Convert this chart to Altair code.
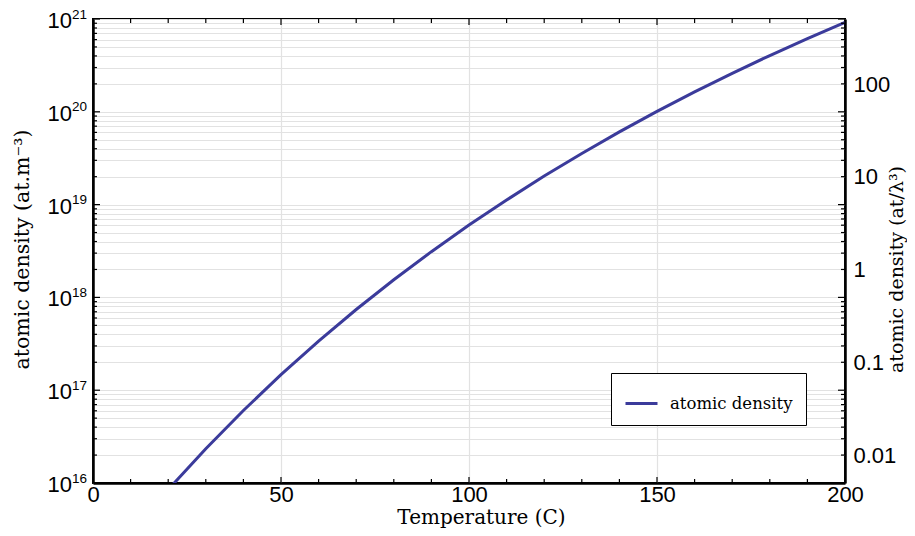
import altair as alt
import pandas as pd

# Data (alkali vapour density curve)
temperature = [20, 30, 40, 50, 60, 70, 80, 90, 100, 110, 120, 130, 140, 150, 160, 170, 180, 190, 200]
density = [8.5e15, 2.34e16, 6.04e16, 1.47e17, 3.38e17, 7.40e17, 1.55e18, 3.11e18, 6.02e18,
           1.12e19, 2.03e19, 3.56e19, 6.07e19, 1.01e20, 1.64e20, 2.60e20, 4.04e20, 6.15e20, 9.21e20]
series_name = "atomic density"
lambda_cubed = 5.0248e-19  # (795 nm)^3 in m^3, conversion to at/lambda^3

x_major = [0, 50, 100, 150, 200]
x_minor = list(range(0, 201, 10))
y_decades = [1e16, 1e17, 1e18, 1e19, 1e20, 1e21]
y_exponents = ["16", "17", "18", "19", "20", "21"]
y_all = [m * d for d in [1e16, 1e17, 1e18, 1e19, 1e20] for m in range(1, 10)] + [1e21]
right_ticks = [0.01, 0.1, 1, 10, 100]

W, H = 752, 464
SERIF = "DejaVu Serif"
SANS = "Liberation Sans"
LINE_COLOR = "#3b3b9b"
GRID = "#e2e2e2"

df = pd.DataFrame({"T": temperature, "n": density, "series": series_name})
df["n_lam"] = df["n"] * lambda_cubed

xscale = alt.Scale(domain=[0, 200], nice=False, zero=False)
yscale = alt.Scale(type="log", domain=[1e16, 1e21], nice=False)

line = alt.Chart(df).mark_line(strokeWidth=3, clip=True).encode(
    x=alt.X("T:Q", scale=xscale,
            axis=alt.Axis(values=x_major, title="Temperature (C)", titleFont=SERIF,
                          titleFontSize=20, titleFontWeight="normal", titleColor="black",
                          titleX=388, titleY=34, titleBaseline="middle", titleAlign="center",
                          labelFont=SANS, labelFontSize=22, labelColor="black",
                          labelPadding=1, ticks=False, grid=True, gridColor=GRID,
                          gridWidth=1.2, domainColor="black", domainWidth=2.5,
                          labelFlush=False)),
    y=alt.Y("n:Q", scale=yscale,
            axis=alt.Axis(values=y_all, labels=False,
                          title="atomic density (at.m⁻³)", titleFont=SERIF, titleFontSize=20.5,
                          titleFontWeight="normal", titleColor="black",
                          titleX=-71, titleY=230, titleAngle=270, titleBaseline="middle",
                          titleAlign="center",
                          ticks=False, grid=True, gridColor=GRID, gridWidth=1.2,
                          domainColor="black", domainWidth=2.5)),
    color=alt.Color("series:N", scale=alt.Scale(range=[LINE_COLOR]),
                    legend=alt.Legend(title=None, orient="none", legendX=518, legendY=354,
                                      symbolType="stroke", symbolSize=1024,
                                      symbolStrokeWidth=3, labelFont=SERIF, labelFontSize=16.5,
                                      labelColor="black", labelOffset=11, padding=13,
                                      strokeColor="black", fillColor="white",
                                      cornerRadius=0)),
)

# left tick labels "10" with superscript exponent
lab = pd.DataFrame({"n": y_decades, "base": "10", "exp": y_exponents})
base_txt = alt.Chart(lab).mark_text(align="right", baseline="middle", font=SANS, fontSize=22,
                                    color="black", dy=2).encode(
    y=alt.Y("n:Q", scale=yscale), x=alt.value(-21), text="base:N")
exp_txt = alt.Chart(lab).mark_text(align="left", baseline="middle", font=SANS, fontSize=13.5,
                                   color="black", dy=-4.5).encode(
    y=alt.Y("n:Q", scale=yscale), x=alt.value(-21), text="exp:N")

# inward tick marks
xt = pd.DataFrame({"T": x_minor})
xt["major"] = xt["T"].isin(x_major)
yt = pd.DataFrame({"n": y_all})
yt["major"] = yt["n"].isin(y_decades)

def xticks(y0, y1, data):
    return alt.Chart(data).mark_rule(color="black", strokeWidth=1.2).encode(
        x=alt.X("T:Q", scale=xscale), y=alt.value(y0), y2=alt.value(y1))

def yticks(x0, x1, data):
    return alt.Chart(data).mark_rule(color="black", strokeWidth=1.2).encode(
        y=alt.Y("n:Q", scale=yscale), x=alt.value(x0), x2=alt.value(x1))

ticks = [
    xticks(H, H - 4, xt[~xt.major]), xticks(H, H - 6, xt[xt.major]),
    xticks(0, 4, xt[~xt.major]), xticks(0, 6, xt[xt.major]),
    yticks(0, 4, yt[~yt.major]), yticks(0, 7, yt[yt.major]),
    yticks(W, W - 4, yt[~yt.major]), yticks(W, W - 7, yt[yt.major]),
]

left_layer = alt.layer(line, base_txt, exp_txt, *ticks)

right = alt.Chart(df).mark_line(opacity=0, clip=True).encode(
    x=alt.X("T:Q", scale=xscale),
    y=alt.Y("n_lam:Q",
            scale=alt.Scale(type="log", domain=[1e16 * lambda_cubed, 1e21 * lambda_cubed], nice=False),
            axis=alt.Axis(orient="right", values=right_ticks, labelExpr="format(datum.value, '~g')",
                          title="atomic density (at/λ³)", titleFont=SERIF, titleFontSize=19,
                          titleFontWeight="normal", titleColor="black",
                          titleX=51, titleY=250, titleAngle=270, titleBaseline="middle",
                          titleAlign="center",
                          labelFont=SANS, labelFontSize=22, labelColor="black", labelPadding=8,
                          ticks=False, grid=False, domainColor="black", domainWidth=2.5,
                          labelFlush=False)),
)

chart = alt.layer(left_layer, right).resolve_scale(y="independent").properties(
    width=W, height=H,
    autosize=alt.AutoSizeParams(type="none"),
    padding={"left": 85, "top": 11, "right": 62, "bottom": 45},
).configure_view(stroke="black", strokeWidth=2)

chart.save("out.html", embed_options={"renderer": "svg", "actions": False})
